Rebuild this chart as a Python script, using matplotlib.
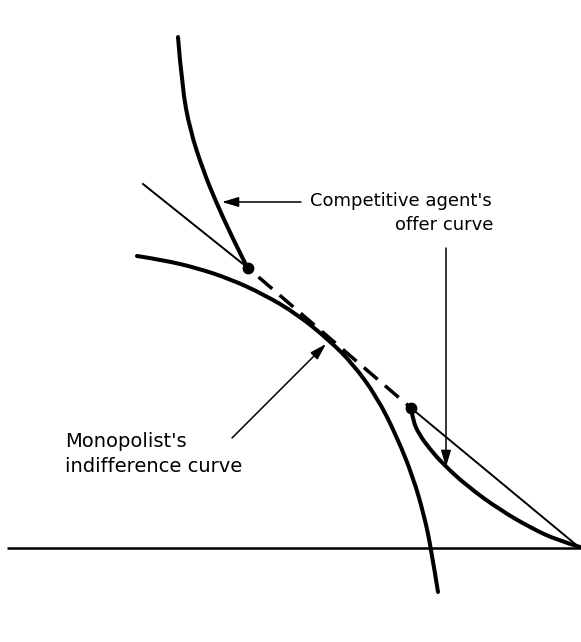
import numpy as np
import matplotlib
matplotlib.use("Agg")
import matplotlib.pyplot as plt
from matplotlib.path import Path
from matplotlib.patches import PathPatch

# monopolist's indifference curve
indiff_x = [137, 163, 197, 230, 263, 297, 330, 353, 377, 397, 413, 424, 431, 438]
indiff_y = [256, 260, 268, 279, 294, 314, 341, 364, 397, 437, 477, 515, 548, 592]

# competitive agent's offer curve, upper branch
offer_up_x = [178, 182, 190, 203, 216, 232, 247.5]
offer_up_y = [37, 87, 130, 170, 202, 237, 268]

# competitive agent's offer curve, lower branch
offer_lo_x = [411, 413, 419, 429, 443, 467, 500, 533, 557, 580]
offer_lo_y = [408, 421, 434, 448, 464, 486, 510, 529, 540, 547]

# budget line: solid / dashed / solid pieces
budget_x = [143, 248, 411, 580]
budget_y = [184, 268, 408, 548]

# the two tangency dots
dots_x = [248, 411]
dots_y = [268, 408]

# horizontal axis
axis_x = [7, 581]
axis_y = [548, 548]


def smooth_path(xs, ys):
    # quadratic bezier through midpoints, the read points act as controls
    pts = list(zip(xs, ys))
    verts = [pts[0]]
    codes = [Path.MOVETO]
    n = len(pts)
    for i in range(1, n - 1):
        if i == n - 2:
            end = pts[-1]
        else:
            end = ((pts[i][0] + pts[i + 1][0]) / 2, (pts[i][1] + pts[i + 1][1]) / 2)
        verts += [pts[i], end]
        codes += [Path.CURVE3, Path.CURVE3]
    return Path(verts, codes)


fig = plt.figure(figsize=(5.81, 6.42), dpi=100)
ax = fig.add_axes([0, 0, 1, 1])
ax.set_xlim(0, 581)
ax.set_ylim(642, 0)
ax.axis('off')

heavy = 2.9
thin = 1.4

# axis
ax.plot(axis_x, axis_y, color='black', lw=1.8, solid_capstyle='butt')

# curves
for xs, ys in [(indiff_x, indiff_y), (offer_up_x, offer_up_y), (offer_lo_x, offer_lo_y)]:
    ax.add_patch(PathPatch(smooth_path(xs, ys), fc='none', ec='black', lw=heavy,
                           capstyle='round'))

# budget line
ax.plot(budget_x[0:2], budget_y[0:2], color='black', lw=thin)
ax.plot(budget_x[1:3], budget_y[1:3], color='black', lw=2.5,
        linestyle=(4, (5.2, 2.8)), dash_capstyle='butt')
ax.plot(budget_x[2:4], budget_y[2:4], color='black', lw=thin)

ax.plot(dots_x, dots_y, 'o', color='black', ms=7.5)

# labels and arrows
ax.text(492, 206, "Competitive agent's", ha='right', va='baseline', fontsize=13)
ax.text(493, 230, "offer curve", ha='right', va='baseline', fontsize=13)
ax.text(65, 447, "Monopolist's", ha='left', va='baseline', fontsize=14)
ax.text(65, 472, "indifference curve", ha='left', va='baseline', fontsize=14)

arrow = dict(arrowstyle='-|>,head_length=1.0,head_width=0.3', color='black',
             lw=1.1, shrinkA=0, shrinkB=0, mutation_scale=10)
ax.annotate('', xy=(222, 202), xytext=(301, 202), arrowprops=arrow)
ax.annotate('', xy=(446, 467), xytext=(446, 248), arrowprops=arrow)
ax.annotate('', xy=(326, 344), xytext=(232, 438), arrowprops=arrow)

fig.savefig('out.png', dpi=100)
